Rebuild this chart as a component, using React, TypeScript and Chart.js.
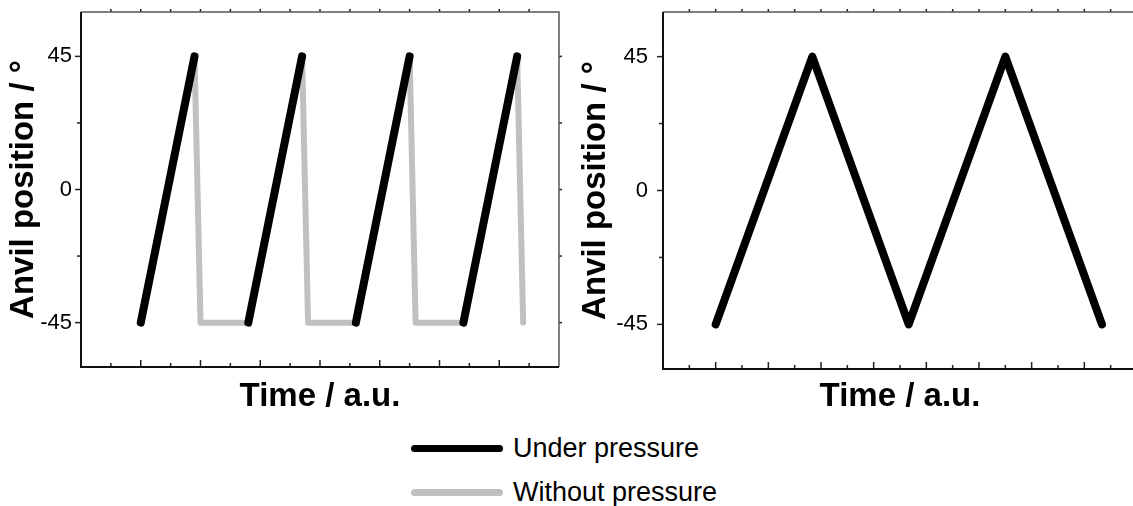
import React, { useEffect, useRef } from "react";
import { Chart, registerables } from "chart.js";

Chart.register(...registerables);

const FONT = '"Liberation Sans", Arial, Helvetica, sans-serif';

// ---------- data ----------
const seriesNames = ["Under pressure", "Without pressure"];
const seriesColors = ["#000000", "#c0c0c0"];

const yTickValues = [-45, 0, 45];
const yTickLabels = ["-45", "0", "45"];
const yMinorValues = [-22.5, 22.5];
const yRange = [-60, 60];

const xTitle = "Time / a.u.";
const yTitle = "Anvil position / °";

// left panel (time in arbitrary units, one minor tick per unit)
const leftXRange = [0, 16];
const leftTime = [2.0, 3.8, 4.0, 5.6, 7.4, 7.6, 9.2, 11.0, 11.2, 12.8, 14.6, 14.8];
const leftUnder = [-45, 45, null, -45, 45, null, -45, 45, null, -45, 45, null];
const leftWithout = [-45, 45, -45, -45, 45, -45, -45, 45, -45, -45, 45, -45];

// right panel
const rightXRange = [0, 18];
const rightTime = [2.0, 5.67, 9.33, 13.0, 16.67];
const rightUnder = [-45, 45, -45, 45, -45];

// ---------- helpers ----------
function pts(xs: number[], ys: (number | null)[]) {
  return xs.map((x, i) => ({ x, y: ys[i] }));
}

const framePlugin = {
  id: "frame",
  afterDatasetsDraw(chart: any) {
    const { ctx, chartArea, scales } = chart;
    const { left, right, top, bottom } = chartArea;
    const x = scales.x;
    const y = scales.y;
    ctx.save();
    ctx.lineCap = "butt";
    ctx.strokeStyle = "#222";
    ctx.lineWidth = 1.5;
    // x ticks (bottom inward, top outward)
    for (let v = x.min + 1; v < x.max; v += 1) {
      const px = x.getPixelForValue(v);
      const major = Math.round(v) % 2 === 0;
      ctx.beginPath();
      ctx.moveTo(px, bottom);
      ctx.lineTo(px, bottom - (major ? 7 : 4));
      ctx.stroke();
      ctx.beginPath();
      ctx.moveTo(px, top);
      ctx.lineTo(px, top - 3);
      ctx.stroke();
    }
    // y ticks (left outward, right outward)
    const yAll = [...yTickValues.map((v) => [v, 1]), ...yMinorValues.map((v) => [v, 0])];
    for (const [v, major] of yAll) {
      const py = y.getPixelForValue(v);
      ctx.beginPath();
      ctx.moveTo(left, py);
      ctx.lineTo(left - (major ? 6 : 4), py);
      ctx.stroke();
      ctx.beginPath();
      ctx.moveTo(right, py);
      ctx.lineTo(right + 3, py);
      ctx.stroke();
    }
    // frame
    ctx.strokeStyle = "#555";
    ctx.lineWidth = 1.5;
    ctx.beginPath();
    ctx.moveTo(left, top);
    ctx.lineTo(right, top);
    ctx.lineTo(right, bottom);
    ctx.stroke();
    ctx.strokeStyle = "#111";
    ctx.lineWidth = 2;
    ctx.beginPath();
    ctx.moveTo(left, top);
    ctx.lineTo(left, bottom);
    ctx.lineTo(right, bottom);
    ctx.stroke();
    ctx.restore();
  },
};

function zeroPad(s: any) {
  s.paddingTop = 0;
  s.paddingBottom = 0;
  s.paddingLeft = 0;
  s.paddingRight = 0;
}

function makeConfig(
  datasets: any[],
  xRange: number[],
  opt: { yWidth: number; xHeight: number; padTop: number; padRight: number; yTitlePad: number; yTickPad: number; xTitlePad: number }
) {
  return {
    type: "line" as const,
    data: { datasets },
    plugins: [framePlugin],
    options: {
      animation: false as const,
      responsive: false,
      events: [],
      layout: { padding: { top: opt.padTop, right: opt.padRight, left: 0, bottom: 0 } },
      plugins: { legend: { display: false }, tooltip: { enabled: false } },
      elements: { point: { radius: 0 }, line: { tension: 0 } },
      scales: {
        x: {
          type: "linear" as const,
          min: xRange[0],
          max: xRange[1],
          grid: { display: false },
          border: { display: false },
          ticks: { display: false },
          title: {
            display: true,
            text: xTitle,
            color: "#000",
            font: { family: FONT, size: 33, weight: "bold" as const },
            padding: { top: 0, bottom: opt.xTitlePad },
          },
          afterFit: (s: any) => {
            s.height = opt.xHeight;
            zeroPad(s);
          },
        },
        y: {
          type: "linear" as const,
          min: yRange[0],
          max: yRange[1],
          grid: { display: false, drawTicks: false },
          border: { display: false },
          afterBuildTicks: (s: any) => {
            s.ticks = yTickValues.map((v) => ({ value: v }));
          },
          ticks: {
            color: "#000",
            padding: opt.yTickPad,
            font: { family: FONT, size: 22 },
            callback: (v: any) => {
              const i = yTickValues.indexOf(Number(v));
              return i >= 0 ? yTickLabels[i] : "";
            },
          },
          title: {
            display: true,
            text: yTitle,
            color: "#000",
            font: { family: FONT, size: 33, weight: "bold" as const },
            padding: { top: opt.yTitlePad, bottom: 0 },
          },
          afterFit: (s: any) => {
            s.width = opt.yWidth;
            zeroPad(s);
          },
        },
      },
    },
  };
}

function lineDs(label: string, color: string, width: number, data: any[], order: number) {
  return {
    label,
    data,
    borderColor: color,
    backgroundColor: color,
    borderWidth: width,
    borderCapStyle: "round" as const,
    borderJoinStyle: "round" as const,
    pointRadius: 0,
    spanGaps: false,
    fill: false,
    order,
  };
}

function Panel(props: { config: any; left: number; width: number; height: number }) {
  const ref = useRef<HTMLCanvasElement | null>(null);
  useEffect(() => {
    if (!ref.current) return;
    const chart = new Chart(ref.current, props.config);
    return () => chart.destroy();
  }, []);
  return (
    <div style={{ position: "absolute", left: props.left, top: 0, width: props.width, height: props.height }}>
      <canvas ref={ref} width={props.width} height={props.height} style={{ width: props.width, height: props.height, display: "block" }} />
    </div>
  );
}

export default function App() {
  const leftConfig = makeConfig(
    [
      lineDs(seriesNames[0], seriesColors[0], 8, pts(leftTime, leftUnder), 0),
      lineDs(seriesNames[1], seriesColors[1], 6, pts(leftTime, leftWithout), 1),
    ],
    leftXRange,
    { yWidth: 81, xHeight: 53, padTop: 12, padRight: 11, yTitlePad: 4, yTickPad: 9, xTitlePad: 3 }
  );
  const rightConfig = makeConfig(
    [lineDs(seriesNames[0], seriesColors[0], 8, pts(rightTime, rightUnder), 0)],
    rightXRange,
    { yWidth: 93, xHeight: 51, padTop: 12, padRight: 3, yTitlePad: 6, yTickPad: 15, xTitlePad: 3 }
  );

  const legendY = [448, 492];
  return (
    <div style={{ position: "fixed", left: 0, top: 0, width: 1133, height: 506, overflow: "hidden", background: "#fff" }}>
      <Panel config={leftConfig} left={0} width={570} height={420} />
      <Panel config={rightConfig} left={570} width={570} height={420} />
      {seriesNames.map((name, i) => (
        <div key={name}>
          <div
            style={{
              position: "absolute",
              left: 411,
              top: legendY[i] - 3.5,
              width: 92,
              height: 7,
              borderRadius: 3.5,
              background: seriesColors[i],
            }}
          />
          <div
            style={{
              position: "absolute",
              left: 513,
              top: legendY[i] - 16,
              height: 32,
              lineHeight: "32px",
              fontFamily: FONT,
              fontSize: 27,
              color: "#000",
              whiteSpace: "nowrap",
            }}
          >
            {name}
          </div>
        </div>
      ))}
    </div>
  );
}
